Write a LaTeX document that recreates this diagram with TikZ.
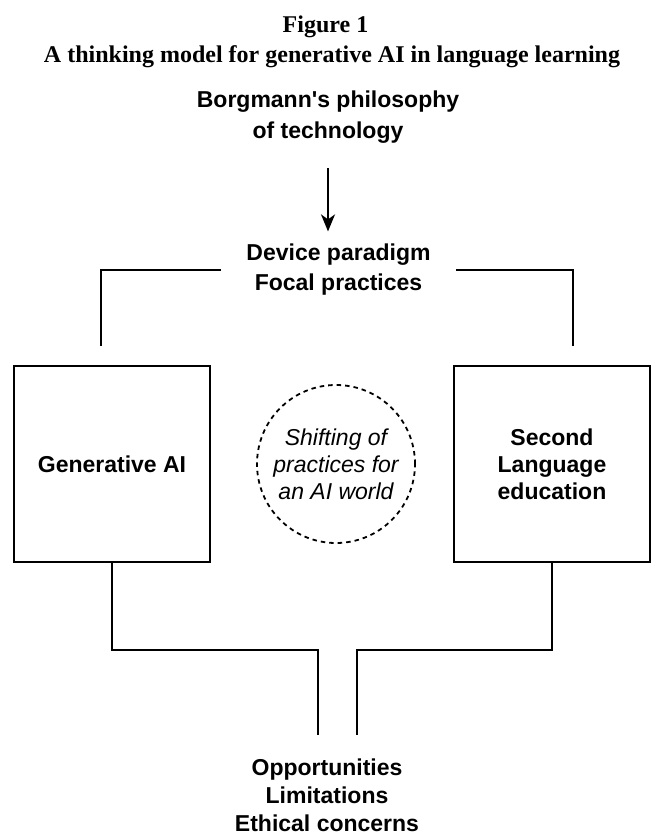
\documentclass[tikz,border=0pt]{standalone}
\usepackage{fontspec}
\setmainfont{Liberation Serif}
\setsansfont{Liberation Sans}
\usepackage{tikz}
\usetikzlibrary{arrows.meta}
\tikzset{
  figtitle/.style={font=\bfseries\fontsize{24}{28}\selectfont, inner sep=0pt},
  lbl/.style={font=\sffamily\bfseries\fontsize{23}{30}\selectfont, align=center, inner sep=0pt},
  box/.style={draw, minimum width=196pt, minimum height=196pt, inner sep=0pt, align=center,
    font=\sffamily\bfseries\fontsize{23}{27}\selectfont},
  ring/.style={draw, circle, dash pattern=on 4.5pt off 4pt, minimum size=158pt, inner sep=0pt,
    align=center, font=\sffamily\itshape\fontsize{23}{27}\selectfont}
}
\begin{document}
\begin{tikzpicture}[x=1pt,y=-1pt,line width=1.8pt]
\useasboundingbox (0,0) rectangle (651,835);
% heading
\node[figtitle, anchor=base] (fig) at (325.5,32) {Figure 1};
\node[figtitle, anchor=base] (ttl) at (332,62) {A thinking model for generative AI in language learning};
% theory on top
\node[lbl, font=\sffamily\bfseries\fontsize{23}{31}\selectfont, inner ysep=24pt] (borg) at (328,117) {Borgmann\textquotesingle s philosophy\\of technology};
\node[lbl, inner xsep=25pt, inner ysep=12pt] (dev) at (338.5,270) {Device paradigm\\Focal practices};
\draw[-{Stealth[length=17pt,width=14pt,inset=5pt]}] (borg.south) -- (borg.south |- dev.north);
\coordinate (lt) at (100.7,346);
\coordinate (rt) at (573,346);
\draw (dev.west) -| (lt);
\draw (dev.east) -| (rt);
% the two fields
\node[box] (gen) at (112,464) {Generative AI};
\node[box] (sle) at (552,464) {Second\\Language\\education};
\node[ring] (shift) at (336,464) {Shifting of\\practices for\\an AI world};
% outcome
\coordinate (jl) at (318,650);
\coordinate (ol) at (318,735);
\coordinate (jr) at (357,650);
\coordinate (or) at (357,735);
\draw (gen.south) |- (jl) -- (ol);
\draw (sle.south) |- (jr) -- (or);
\node[lbl, font=\sffamily\bfseries\fontsize{23}{28}\selectfont] (out) at (327,795) {Opportunities\\Limitations\\Ethical concerns};
\end{tikzpicture}
\end{document}
